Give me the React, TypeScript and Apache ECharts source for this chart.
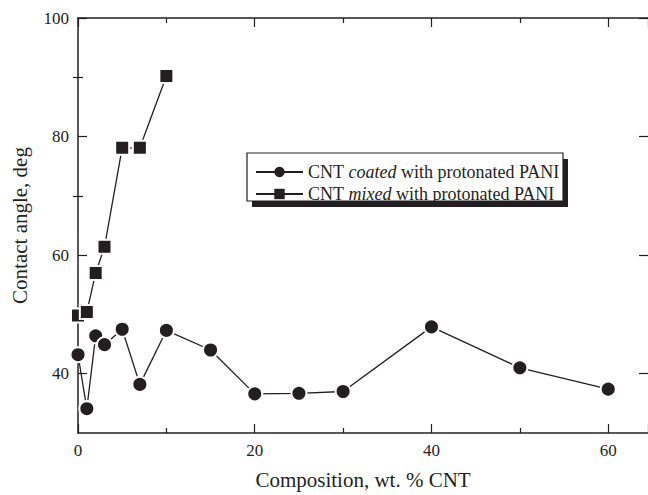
import React, { useEffect, useRef } from 'react';
import * as echarts from 'echarts';

const coatedName = 'CNT coated with protonated PANI';
const mixedName = 'CNT mixed with protonated PANI';
const coatedX = [0, 1, 2, 3, 5, 7, 10, 15, 20, 25, 30, 40, 50, 60];
const coatedY = [43.2, 34.1, 46.4, 44.9, 47.5, 38.2, 47.3, 44.0, 36.6, 36.7, 37.0, 47.9, 41.0, 37.4];
const mixedX = [0, 1, 2, 3, 5, 7, 10];
const mixedY = [49.8, 50.4, 57.0, 61.4, 78.1, 78.1, 90.2];
const xMajor = [0, 20, 40, 60];
const yMajor = [40, 60, 80, 100];
const yMinor = [50, 70, 90];

const INK = '#231f20';
const FONT = "'Liberation Serif', 'Times New Roman', serif";

export default function App() {
  const ref = useRef<HTMLDivElement>(null);
  useEffect(() => {
    if (!ref.current) return;
    const chart = echarts.init(ref.current, undefined, { renderer: 'svg' });
    const xBase = (pos: 'bottom' | 'top', labels: boolean) => ({
      type: 'value',
      position: pos,
      min: 0,
      max: 64.5,
      interval: 20,
      axisLine: { show: true, onZero: false, lineStyle: { color: INK, width: 1.5 } },
      axisTick: { show: true, inside: true, length: 9, lineStyle: { color: INK, width: 1.2 } },
      minorTick: { show: true, splitNumber: 2, length: 5, lineStyle: { color: INK, width: 1.2 } },
      axisLabel: {
        show: labels,
        customValues: xMajor,
        margin: 9,
        color: INK,
        fontFamily: FONT,
        fontSize: 17,
        formatter: (v: number) => (xMajor.indexOf(v) >= 0 ? String(v) : ''),
      },
      splitLine: { show: false },
      ...(labels
        ? {
            name: 'Composition, wt. % CNT',
            nameLocation: 'middle',
            nameGap: 36,
            nameTextStyle: { color: INK, fontFamily: FONT, fontSize: 21 },
          }
        : {}),
    });
    const yMajorAxis = (pos: 'left' | 'right', labels: boolean) => ({
      type: 'value',
      position: pos,
      min: 30,
      max: 100,
      interval: 10,
      axisLine: { show: labels, onZero: false, lineStyle: { color: INK, width: 1.5 } },
      axisTick: { show: true, inside: true, length: 9, customValues: yMajor, lineStyle: { color: INK, width: 1.2 } },
      axisLabel: {
        show: labels,
        customValues: yMajor,
        margin: 9,
        color: INK,
        fontFamily: FONT,
        fontSize: 17,
        formatter: (v: number) => (v % 20 === 0 ? String(v) : ''),
      },
      splitLine: { show: false },
      ...(labels
        ? {
            name: 'Contact angle, deg',
            nameLocation: 'middle',
            nameGap: 48,
            nameTextStyle: { color: INK, fontFamily: FONT, fontSize: 21 },
          }
        : {}),
    });
    const yMinorAxis = (pos: 'left' | 'right') => ({
      type: 'value',
      position: pos,
      min: 30,
      max: 100,
      interval: 10,
      axisLine: { show: false },
      axisTick: { show: true, inside: true, length: 5, customValues: yMinor, lineStyle: { color: INK, width: 1.2 } },
      axisLabel: { show: false },
      splitLine: { show: false },
    });
    const option: any = {
      animation: false,
      backgroundColor: '#fff',
      grid: { left: 78, right: 0, top: 18, bottom: 57, containLabel: false },
      xAxis: [xBase('bottom', true), xBase('top', false)],
      yAxis: [yMajorAxis('left', true), yMinorAxis('left'), yMajorAxis('right', false), yMinorAxis('right')],
      legend: {
        orient: 'vertical',
        left: 255,
        top: 163,
        itemWidth: 47,
        itemHeight: 13,
        itemGap: 4,
        padding: 0,
        itemStyle: { borderWidth: 0 },
        data: [coatedName, mixedName],
        textStyle: {
          color: INK,
          fontFamily: FONT,
          fontSize: 18,
          lineHeight: 16,
          rich: {
            i: { fontStyle: 'italic', fontFamily: FONT, fontSize: 18, lineHeight: 16, color: INK },
          },
        },
        formatter: (name: string) =>
          name === coatedName ? 'CNT {i|coated} with protonated PANI' : 'CNT {i|mixed} with protonated PANI',
      },
      graphic: [
        { type: 'rect', z: 0, shape: { x: 252, y: 159, width: 316, height: 48 }, style: { fill: INK } },
        { type: 'rect', z: 1, shape: { x: 247, y: 153, width: 316, height: 48 }, style: { fill: '#fff', stroke: INK, lineWidth: 1.2 } },
      ],
      series: [
        {
          name: coatedName,
          type: 'line',
          data: coatedX.map((x, i) => [x, coatedY[i]]),
          symbol: 'circle',
          symbolSize: 15,
          clip: false,
          lineStyle: { color: INK, width: 1.3 },
          itemStyle: { color: INK, borderColor: '#fff', borderWidth: 2 },
        },
        {
          name: mixedName,
          type: 'line',
          data: mixedX.map((x, i) => [x, mixedY[i]]),
          symbol: 'rect',
          symbolSize: 14,
          clip: false,
          lineStyle: { color: INK, width: 1.3 },
          itemStyle: { color: INK, borderColor: '#fff', borderWidth: 2 },
        },
      ],
    };
    chart.setOption(option);
    return () => chart.dispose();
  }, []);
  return (
    <div
      ref={ref}
      style={{ position: 'fixed', left: 0, top: 0, width: 648, height: 495, background: '#fff' }}
    />
  );
}
